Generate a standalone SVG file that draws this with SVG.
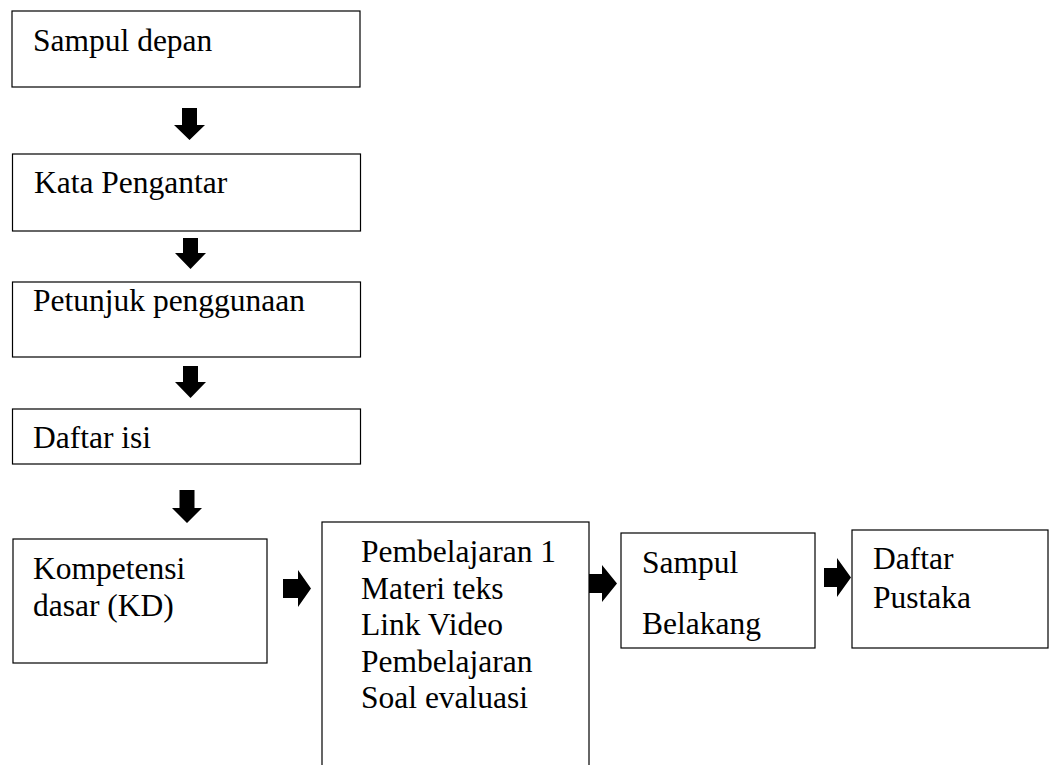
<svg xmlns="http://www.w3.org/2000/svg" width="1056" height="765" viewBox="0 0 1056 765">
<style>
.box{fill:#fff;stroke:#000;stroke-width:1.2}
.t{font-family:"Liberation Serif","Times New Roman",serif;font-size:31.5px;fill:#000}
.arr{fill:#000;stroke:none}
</style>
<rect width="1056" height="765" fill="#fff"/>
<g id="n1"><rect class="box" x="12" y="11" width="348" height="76"/><text class="t" x="33" y="51">Sampul depan</text></g>
<g id="n2"><rect class="box" x="12.5" y="154" width="348" height="77"/><text class="t" x="34" y="193">Kata Pengantar</text></g>
<g id="n3"><rect class="box" x="12.5" y="282" width="348" height="75"/><text class="t" x="33" y="311">Petunjuk penggunaan</text></g>
<g id="n4"><rect class="box" x="12.5" y="409" width="348" height="55"/><text class="t" x="33" y="448">Daftar isi</text></g>
<g id="n5"><rect class="box" x="13" y="539" width="254" height="124"/><text class="t" x="33" y="579">Kompetensi</text><text class="t" x="33" y="616">dasar (KD)</text></g>
<g id="n6"><rect class="box" x="322" y="522" width="267" height="300"/>
<text class="t" x="361" y="562">Pembelajaran 1</text>
<text class="t" x="361" y="598.5">Materi teks</text>
<text class="t" x="361" y="635">Link Video</text>
<text class="t" x="361" y="671.5">Pembelajaran</text>
<text class="t" x="361" y="708">Soal evaluasi</text></g>
<g id="n7"><rect class="box" x="621" y="533" width="194" height="115"/><text class="t" x="642" y="573">Sampul</text><text class="t" x="642" y="634">Belakang</text></g>
<g id="n8"><rect class="box" x="852" y="530" width="196" height="118"/><text class="t" x="873" y="569">Daftar</text><text class="t" x="873" y="608">Pustaka</text></g>
<g id="connectors">
<polygon class="arr" points="182,108 197,108 197,125 205,125 189.5,140 174,125 182,125"/>
<polygon class="arr" points="183,238 198,238 198,253 206,253 190.5,269 175,253 183,253"/>
<polygon class="arr" points="183,366 198,366 198,382 206,382 190.5,398 175,382 183,382"/>
<polygon class="arr" points="179.5,490 194.5,490 194.5,508 202,508 187,523 172,508 179.5,508"/>
<polygon class="arr" points="283,579 298,579 298,570 311,588.5 298,607 298,598 283,598"/>
<polygon class="arr" points="589,574 602,574 602,565 617,583.5 602,602 602,593 589,593"/>
<polygon class="arr" points="824,568 837,568 837,558 851,577.5 837,597 837,587 824,587"/>
</g>
</svg>
